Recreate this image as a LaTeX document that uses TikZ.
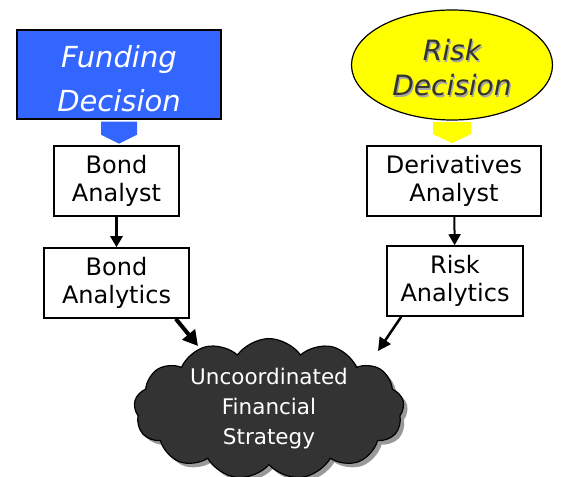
\documentclass[tikz,border=0pt]{standalone}
\usepackage{fontspec}
\setmainfont{DejaVu Sans}
\usetikzlibrary{arrows.meta,shapes.geometric,shapes.symbols,shadows,calc}
\definecolor{fundblue}{HTML}{3366FF}
\definecolor{riskyellow}{HTML}{FFFF00}
\definecolor{darkgrey}{HTML}{333333}
\begin{document}
\begin{tikzpicture}[x=1pt,y=-1pt,
  anbox/.style={draw,line width=1.6pt,minimum height=70pt,inner sep=0pt,align=center,
    font=\fontsize{24}{28}\selectfont},
  flow/.style={-{Triangle[length=11pt 0,width=12pt 0]}}]
\useasboundingbox (0,0) rectangle (561,476);
% decisions
\node[draw,line width=2.4pt,fill=fundblue,minimum width=204pt,minimum height=89pt,inner sep=0pt,
  text=white,align=center,font=\fontsize{29}{44}\selectfont\itshape] (fund) at (119,74.5) {};
\node[text=white,align=center,font=\fontsize{29}{44}\selectfont\itshape] (fundlabel) at (119,78.5) {Funding\\Decision};
\fill[fundblue] ($(fund.south)+(-18,1.5)$) -- ++(36,0) -- ++(0,13) -- ++(-18,9) -- ++(-18,-9) -- cycle;
\node[draw,ellipse,line width=1.2pt,fill=riskyellow,minimum width=201pt,minimum height=110pt,inner sep=0pt] (risk) at (452,65) {};
\fill[riskyellow] ($(risk.south)+(-19,1.5)$) -- ++(38,0) -- ++(0,12) -- ++(-19,9) -- ++(-19,-9) -- cycle;
\node[text=black!35,align=center,font=\fontsize{28}{35}\selectfont\itshape] (riskshade) at (453.2,69.2) {Risk\\Decision};
\node[text=darkgrey,align=center,font=\fontsize{28}{35}\selectfont\itshape] (risklabel) at (452,68) {Risk\\Decision};
% analysts and analytics
\node[anbox,minimum width=125pt] (bondan) at (116.5,181) {Bond\\Analyst};
\node[anbox,minimum width=145pt] (bondtic) at (116.5,283) {Bond\\Analytics};
\node[anbox,minimum width=174pt] (derivan) at (454,181) {Derivatives\\Analyst};
\node[anbox,minimum width=136pt] (risktic) at (455,281) {Risk\\Analytics};
% outcome
\node[cloud,cloud puffs=13,cloud puff arc=110,aspect=2.1,draw,line width=1.2pt,fill=darkgrey,
  minimum width=270pt,minimum height=128pt,inner sep=0pt,
  drop shadow={shadow xshift=4pt,shadow yshift=-4pt,fill=black!40,opacity=1},
  text=white,align=center,font=\fontsize{21.5}{30}\selectfont] (cloud) at (269,409)
  {Uncoordinated\\Financial\\Strategy};
% arrows
\draw[flow,line width=3pt] (bondan) -- (bondtic);
\draw[flow,line width=2pt] (derivan) -- (risktic);
\draw[-{Triangle[length=15pt 0,width=16pt 0]},line width=4pt] ($(bondtic.south east)+(-14,0)$) -- ($(cloud.center)+(-71,-63)$);
\draw[-{Triangle[length=13pt 0,width=13pt 0]},line width=2.5pt] ($(risktic.south west)+(15,0)$) -- ($(cloud.center)+(109,-58)$);
\end{tikzpicture}
\end{document}
